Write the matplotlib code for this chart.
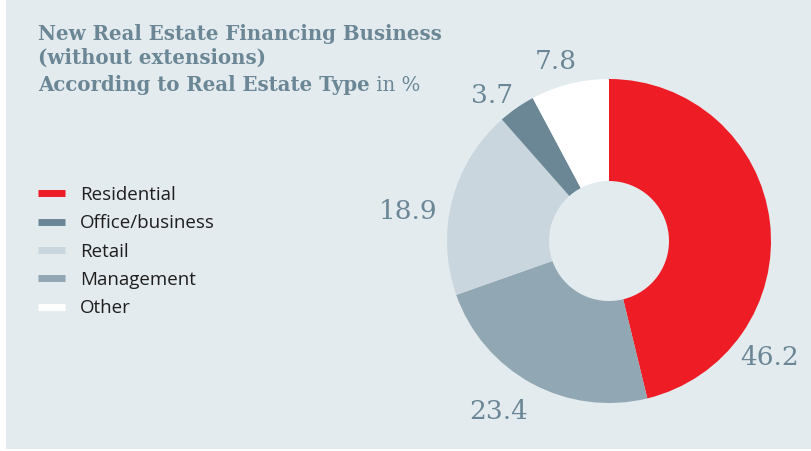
import matplotlib
matplotlib.use("Agg")
import matplotlib.pyplot as plt
from matplotlib.lines import Line2D
from matplotlib.patches import Rectangle

# ---- data ----
legend_labels = ["Residential", "Office/business", "Retail", "Management", "Other"]
legend_values = [46.2, 3.7, 18.9, 23.4, 7.8]
pie_order = ["Residential", "Management", "Retail", "Office/business", "Other"]
value_text = ["46.2", "3.7", "18.9", "23.4", "7.8"]
title_lines = ["New Real Estate Financing Business", "(without extensions)",
               "According to Real Estate Type"]
title_unit = " in %"

colors = {
    "Residential": "#ee1c25",
    "Office/business": "#6b8795",
    "Retail": "#c9d6de",
    "Management": "#91a7b3",
    "Other": "#ffffff",
}
BG = "#e3ebef"
TXT = "#6b8795"

W, H = 811, 451
fig = plt.figure(figsize=(W / 100, H / 100), dpi=100, facecolor="white")
fig.patches.append(Rectangle((6 / W, 2 / H), 1 - 6 / W, 1 - 2 / H,
                             transform=fig.transFigure, facecolor=BG,
                             edgecolor="none", zorder=-10))

# ---- donut ----
cx, cy, R, r_in = 609, 241, 162, 60
ax = fig.add_axes([(cx - R) / W, (H - cy - R) / H, 2 * R / W, 2 * R / H])
ax.set_axis_off()
vals = [legend_values[legend_labels.index(k)] for k in pie_order]
wedges, _ = ax.pie(vals, colors=[colors[k] for k in pie_order], startangle=90,
                   counterclock=False, radius=1,
                   wedgeprops=dict(width=1 - r_in / R, edgecolor="none"))
ax.set_xlim(-1, 1)
ax.set_ylim(-1, 1)
ax.set_aspect("equal")

# value labels (positions in radius units)
label_pos = {
    "Residential": (0.99, -0.72),
    "Management": (-0.68, -1.05),
    "Retail": (-1.24, 0.18),
    "Office/business": (-0.72, 0.90),
    "Other": (-0.33, 1.11),
}
for k in pie_order:
    t = value_text[legend_labels.index(k)]
    x, y = label_pos[k]
    ax.text(x, y, t, ha="center", va="center", fontsize=19,
            family="DejaVu Serif", color=TXT, clip_on=False)

# ---- title ----
baselines = [40, 64, 91]
last = None
for line, b in zip(title_lines, baselines):
    last = fig.text(38 / W, 1 - b / H, line, ha="left", va="baseline",
                    fontsize=14.2, family="DejaVu Serif", fontweight="bold",
                    color=TXT)
fig.add_artist(matplotlib.text.Annotation(
    title_unit, xy=(1, 0), xycoords=last, va="bottom", ha="left",
    fontsize=14.2, family="DejaVu Serif", color=TXT, annotation_clip=False))

# ---- legend ----
handles = [Line2D([0], [0], color=colors[k], lw=5, solid_capstyle="butt")
           for k in legend_labels]
leg = fig.legend(handles, legend_labels, loc="upper left",
                 bbox_to_anchor=(38 / W, 1 - 186 / H), frameon=False,
                 prop=dict(family="Open Sans", size=13.5), labelcolor="#1e1e1e",
                 handlelength=1.44, handletextpad=0.8, labelspacing=0.55,
                 borderaxespad=0, borderpad=0)

fig.savefig("out.png", dpi=100, facecolor="white")
